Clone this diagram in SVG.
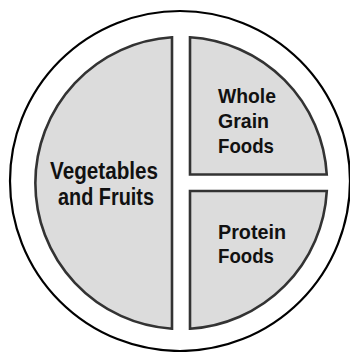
<svg xmlns="http://www.w3.org/2000/svg" width="350" height="352" viewBox="0 0 350 352">
<style>
.plate{fill:#ffffff;stroke:#000000;stroke-width:2.2}
.sec{fill:#dcdcdc;stroke:#333333;stroke-width:2.6;stroke-linejoin:miter}
.lbl{font-family:"Liberation Sans","Open Sans",sans-serif;font-weight:bold;fill:#111111}
.big{font-size:23px}
.sm{font-size:21px}
</style>
<rect width="350" height="352" fill="#ffffff"/>
<g id="plate"><circle class="plate" cx="180" cy="181" r="170"/></g>
<g id="vegetables">
<path class="sec" d="M172,37.3 A146,146 0 0 0 172,328.7 Z"/>
<text class="lbl big" x="104" y="178.5" text-anchor="middle" textLength="108" lengthAdjust="spacingAndGlyphs">Vegetables</text>
<text class="lbl big" x="106" y="205" text-anchor="middle" textLength="96" lengthAdjust="spacingAndGlyphs">and Fruits</text>
</g>
<g id="grain">
<path class="sec" d="M190,174.5 L190,37.3 A146,146 0 0 1 326.75,174.5 Z"/>
<text class="lbl sm" x="218" y="103" textLength="58" lengthAdjust="spacingAndGlyphs">Whole</text>
<text class="lbl sm" x="218" y="128" textLength="51" lengthAdjust="spacingAndGlyphs">Grain</text>
<text class="lbl sm" x="218" y="153" textLength="56" lengthAdjust="spacingAndGlyphs">Foods</text>
</g>
<g id="protein">
<path class="sec" d="M190,191 L326.8,191 A146,146 0 0 1 190,328.7 Z"/>
<text class="lbl sm" x="218" y="238.5" textLength="68" lengthAdjust="spacingAndGlyphs">Protein</text>
<text class="lbl sm" x="218" y="263" textLength="56" lengthAdjust="spacingAndGlyphs">Foods</text>
</g>
<g id="connectors"></g>
</svg>
